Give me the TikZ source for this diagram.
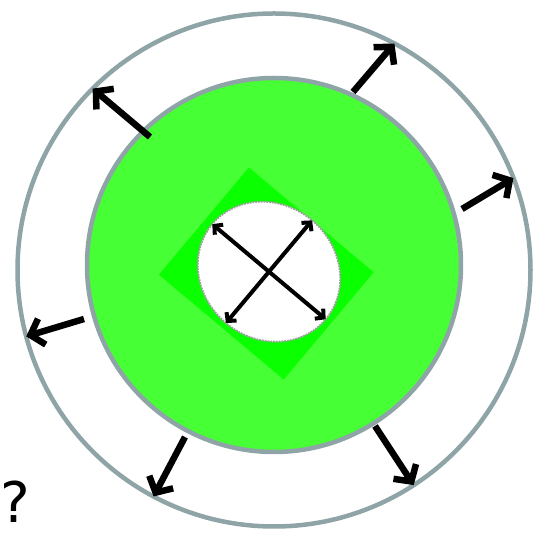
\documentclass[tikz,border=0pt]{standalone}
\usepackage{fontspec}
\setsansfont{DejaVu Sans}
\usetikzlibrary{arrows.meta,shapes.geometric}
\definecolor{rimgray}{HTML}{8EA4A6}
\definecolor{leafgreen}{HTML}{47FF35}
\definecolor{puregreen}{HTML}{0AFF00}

\begin{document}
\begin{tikzpicture}[
  x=1pt,y=1pt,
  ring/.style={circle,draw=rimgray,line width=4.5pt,inner sep=0pt,outer sep=0pt},
  push/.style={-{Straight Barb[length=12pt,width=27pt]},line width=6.5pt},
  spoke/.style={{Straight Barb[length=6pt,width=13pt]}-{Straight Barb[length=6pt,width=13pt]},line width=4pt}
]
\useasboundingbox (0,0) rectangle (539,535);
\node[ring,minimum size=513pt] (rim) at (274,265) {};
\node[ring,fill=leafgreen,minimum size=374pt] (disk) at (274,270) {};
\node[rectangle,fill=puregreen,rotate=-40,minimum width=163pt,minimum height=140pt,inner sep=0pt] (plate) at (266.3,261.5) {};
\node[ellipse,fill=white,draw=gray!75,densely dotted,line width=1.8pt,rotate=140,minimum width=148pt,minimum height=134pt,inner sep=0pt,outer sep=0pt] (hole) at (269,263.3) {};
\draw[spoke] (hole.0) -- (hole.180);
\draw[spoke] (hole.90) -- (hole.270);
% tails of the outward arrows, just inside the green disk
\coordinate (t1) at (150,398);
\coordinate (t2) at (353,443);
\coordinate (t3) at (462,326);
\coordinate (t4) at (84,216);
\coordinate (t5) at (185,98);
\coordinate (t6) at (375,109);
\draw[push] (t1) -- (rim.135);
\draw[push] (t2) -- (rim.62);
\draw[push] (t3) -- (rim.21);
\draw[push] (t4) -- (rim.195);
\draw[push] (t5) -- (rim.242);
\draw[push] (t6) -- (rim.303);
\node[font=\sffamily\fontsize{56}{56}\selectfont,inner sep=0pt,anchor=base west] (ask) at (0,12) {?};
\end{tikzpicture}
\end{document}
